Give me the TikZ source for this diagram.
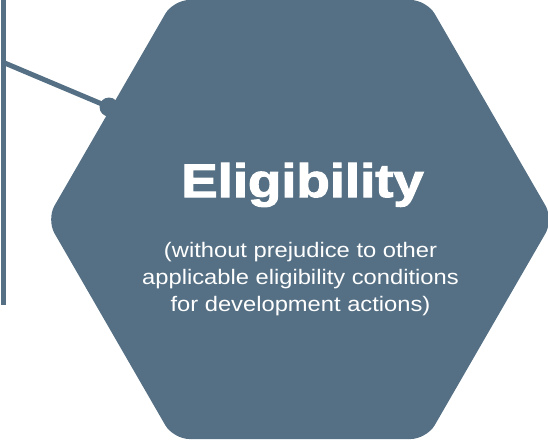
\documentclass[tikz,border=0pt]{standalone}
\usepackage{fontspec}
\setmainfont{Liberation Sans}
\newfontfamily\titlefont[FakeBold=2.2]{Liberation Sans Bold}
\definecolor{slate}{HTML}{557084}
\begin{document}
\begin{tikzpicture}[
    x=1pt, y=-1pt,
    bar/.style={draw=slate, line width=5pt},
    pindot/.style={circle, fill=slate, minimum size=19pt, inner sep=0pt},
    title/.style={text=white, font=\titlefont\fontsize{47}{50}\selectfont, anchor=base},
    note/.style={text=white, font=\fontsize{21}{27}\selectfont, align=center,
        anchor=base, xscale=1.13, transform shape},
]
\useasboundingbox (0,0) rectangle (548,439);

% Hexagon
\fill[slate, rounded corners=16pt] (46.5,219.5) -- (173.25,0) -- (426.75,0)
    -- (553.5,219.5) -- (426.75,439) -- (173.25,439) -- cycle;

% Texts
\node[title] (head) at (302.5,197) {\scalebox{1.16}[1]{Eligibility}};
\node[note] (sub) at (300.5,311) {(without prejudice to other\\
    applicable eligibility conditions\\
    for development actions)};

% Pole and pin
\coordinate (pole top) at (3.5,0);
\coordinate (pole end) at (3.5,305);
\coordinate (joint) at (3.5,62.5);
\node[pindot] (pin) at (109,107) {};
\draw[bar] (pole top) -- (pole end);
\draw[bar] (joint) -- (pin.center);

\end{tikzpicture}
\end{document}
